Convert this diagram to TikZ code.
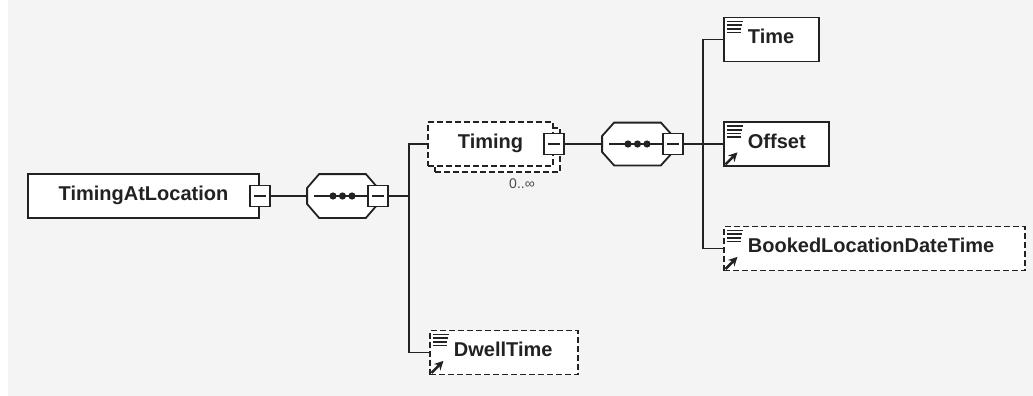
\documentclass[tikz,border=0pt]{standalone}
\usepackage{fontspec}
\setmainfont{Liberation Sans}
\usepackage{xcolor}
\definecolor{colBack}{HTML}{F4F4F4}
\definecolor{colLine}{HTML}{222222}
\colorlet{colOccurs}{black!70}
\usepackage{tikz}
\usetikzlibrary{arrows.meta, positioning, calc}

\begin{document}
\begin{tikzpicture}[x=1pt, y=-1pt, line width=1.8pt, color=colLine, >=Stealth,
		every node/.style={font=\bfseries\fontsize{20}{24}\selectfont},
		box/.style={draw, fill=white, minimum height=44, inner sep=0pt, text height=13pt, text depth=5pt},
		optbox/.style={box, dash pattern=on 6pt off 3pt},
		leaf/.style={align=left, text width=#1, execute at begin node=\hspace*{24pt}},
		minus/.style={draw, fill=white, minimum width=20, minimum height=21, inner sep=0pt,
			path picture={\draw[line width=1.6pt] ([xshift=4pt]path picture bounding box.west) -- ([xshift=-4pt]path picture bounding box.east);}},
		seq/.style={minimum width=69, minimum height=42, inner sep=0pt},
		icon/.style={line width=1.7pt},
		refarrow/.style={-{Stealth[length=9pt, width=9pt]}, line width=2.6pt}]
	\useasboundingbox (0,0) rectangle (1033,396);
	\fill[white] (0,0) rectangle (1033,396);
	\fill[colBack] (8,0) rectangle (1033,396);

	\node[box, minimum width=231] (root) at (143.5,196) {TimingAtLocation};
	\node[minus] (rootm) at (root.east) {};

	\node[seq] (seq1) at (342.5,196) {};
	\node[seq, minimum height=41] (seq2) at (637.5,144) {};
	\foreach \s in {seq1, seq2}{
		\draw[fill=white] ($(\s.west)+(0,-8)$) -- ($(\s.north west)+(12,0)$) -- ($(\s.north east)+(-12,0)$)
			-- ($(\s.east)+(0,-8)$) -- ($(\s.east)+(0,8)$) -- ($(\s.south east)+(-12,0)$)
			-- ($(\s.south west)+(12,0)$) -- ($(\s.west)+(0,8)$) -- cycle;
		\draw ($(\s.west)+(7,0)$) -- (\s.east);
		\foreach \dx in {-9.5, 0, 9.5}
			\fill ($(\s.center)+(\dx,0)$) circle (3.6pt);
	}
	\node[minus] (seq1m) at (seq1.east) {};
	\node[minus] (seq2m) at (seq2.east) {};
	\coordinate (bar1) at (409,196);
	\coordinate (bar2) at (703,144);

	\node[optbox, minimum width=125] (timingcopy) at (497.5,150) {};
	\node[optbox, minimum width=125] (timing) at (490.5,144) {Timing};
	\node[minus] (timingm) at (timing.east) {};
	\node[font=\fontsize{14}{16}\selectfont, text=colOccurs] (timingocc) at (522,184) {0..∞};

	\node[box, leaf=95, anchor=west] (time) at (723,39.5) {Time};
	\node[box, leaf=105, anchor=west] (offset) at (723,144) {Offset};
	\node[optbox, leaf=301, anchor=west] (booked) at (723,248.5) {BookedLocationDateTime};
	\node[optbox, leaf=148, anchor=west] (dwell) at (429,352.5) {DwellTime};

	\foreach \n in {time, offset, booked, dwell}
		\foreach \dy/\len in {5/16, 8.7/15, 12.3/14, 16/14}
			\draw[icon] ($(\n.north west)+(3.5,\dy)$) -- ++(\len,0);
	\foreach \n in {offset, booked, dwell}
		\draw[refarrow] ($(\n.south west)+(2.5,-2.5)$) -- ++(12,-12);

	\draw (rootm.east) -- (seq1.west);
	\draw (seq1m.east) -- (bar1);
	\draw (timing.west) -| (bar1) |- (dwell.west);
	\draw (timingm.east) -- (seq2.west);
	\draw (seq2m.east) -- (offset.west);
	\draw (time.west) -| (bar2) |- (booked.west);
\end{tikzpicture}
\end{document}
